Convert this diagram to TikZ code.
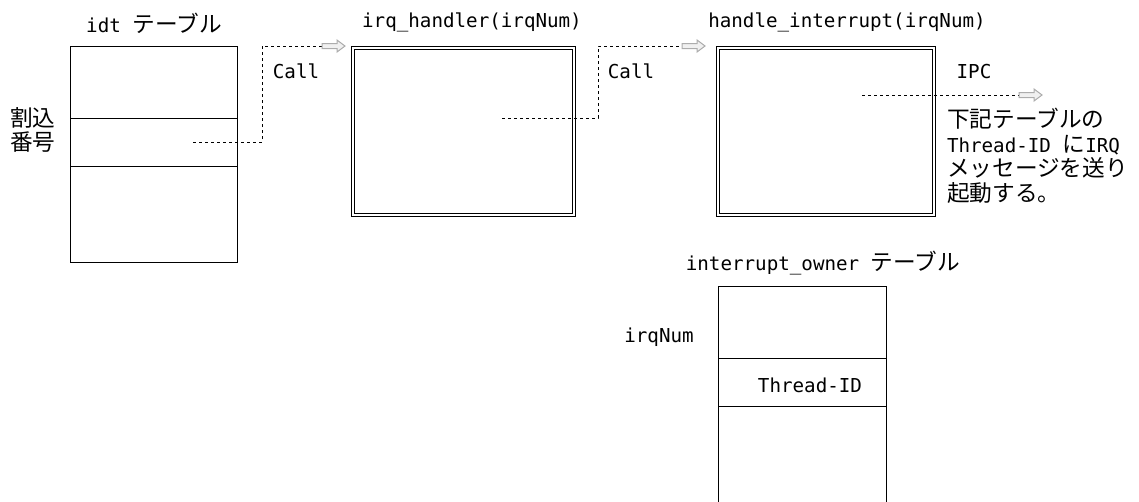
\documentclass[tikz,border=0pt]{standalone}
\usepackage{fontspec}
\setmainfont{DejaVu Sans Mono}
\newfontfamily\jpfont{Noto Sans CJK JP}
\newcommand\jp[1]{{\fontsize{17pt}{18pt}\selectfont\jpfont #1}}
\tikzset{
  tbl/.style={draw, line width=0.75pt, inner sep=0pt, outer sep=0pt},
  fbox/.style={draw, double, double distance=1.5pt, line width=0.75pt, inner sep=0pt, outer sep=0pt},
  conn/.style={dash pattern=on 2.25pt off 2.25pt, line width=0.75pt},
  lbl/.style={inner sep=0pt, outer sep=0pt},
  hollowarrow/.pic={\draw[draw=gray!65, fill=gray!12, line width=0.75pt]
    (0,-2.5) -- (15,-2.5) -- (15,-6) -- (23,0) -- (15,6) -- (15,2.5) -- (0,2.5) -- cycle;}
}
\begin{document}
\begin{tikzpicture}[x=0.75pt, y=-0.75pt, font=\fontsize{14.4pt}{18.4pt}\selectfont]
\useasboundingbox (0,0) rectangle (1139,501);

% idt table
\node[tbl, minimum width=125.25pt, minimum height=162pt] (idt) at (153.5,154) {};
\draw[line width=0.75pt] (idt.west |- 0,118) -- (idt.east |- 0,118);
\draw[line width=0.75pt] (idt.west |- 0,166) -- (idt.east |- 0,166);
\node[lbl] (idttitle) at (154,23) {idt \jp{テーブル}};
\node[lbl, align=center, font=\fontsize{17pt}{17.5pt}\selectfont\jpfont] (wari) at (33,130) {割込\\番号};

% irq_handler box
\node[fbox, minimum width=165.4pt, minimum height=125.25pt] (irq) at (463.75,131) {};
\node[lbl] (irqtitle) at (472,22) {irq\_handler(irqNum)};

% handle_interrupt box
\node[fbox, minimum width=162pt, minimum height=125.25pt] (hand) at (825.5,131) {};
\node[lbl] (handtitle) at (847,22) {handle\_interrupt(irqNum)};

% connector 1
\coordinate (c1s) at (193,142);
\coordinate (k1) at (262,142);
\coordinate (a1) at (322,46);
\draw[conn] (c1s) -- (k1) |- (a1);
\pic at (a1) {hollowarrow};
\node[lbl] (call1) at (296,71) {Call};

% connector 2
\coordinate (c2s) at (502,118);
\coordinate (k2) at (598,118);
\coordinate (a2) at (682,46);
\draw[conn] (c2s) -- (k2) |- (a2);
\pic at (a2) {hollowarrow};
\node[lbl] (call2) at (631,71) {Call};

% IPC connector
\coordinate (c3s) at (862,95);
\coordinate (a3) at (1019,95);
\draw[conn] (c3s) -- (a3);
\pic at (a3) {hollowarrow};
\node[lbl] (ipc) at (974,72) {IPC};
\node[lbl, anchor=west, align=left] (desc) at (947,156)
  {\jp{下記テーブルの}\\Thread-ID \jp{に}IRQ\\\jp{メッセージを送り}\\\jp{起動する。}};

% interrupt_owner table
\node[lbl] (owntitle) at (823,263) {interrupt\_owner \jp{テーブル}};
\node[lbl, minimum width=126pt, minimum height=161.25pt] (own) at (802,394) {};
\draw[line width=0.75pt] (own.south west) -- (own.north west) -- (own.north east) -- (own.south east);
\draw[line width=0.75pt] (own.west |- 0,358) -- (own.east |- 0,358);
\draw[line width=0.75pt] (own.west |- 0,406) -- (own.east |- 0,406);
\node[lbl] (irqnum) at (659,337) {irqNum};
\node[lbl] (tid) at (810,385) {Thread-ID};
\end{tikzpicture}
\end{document}
